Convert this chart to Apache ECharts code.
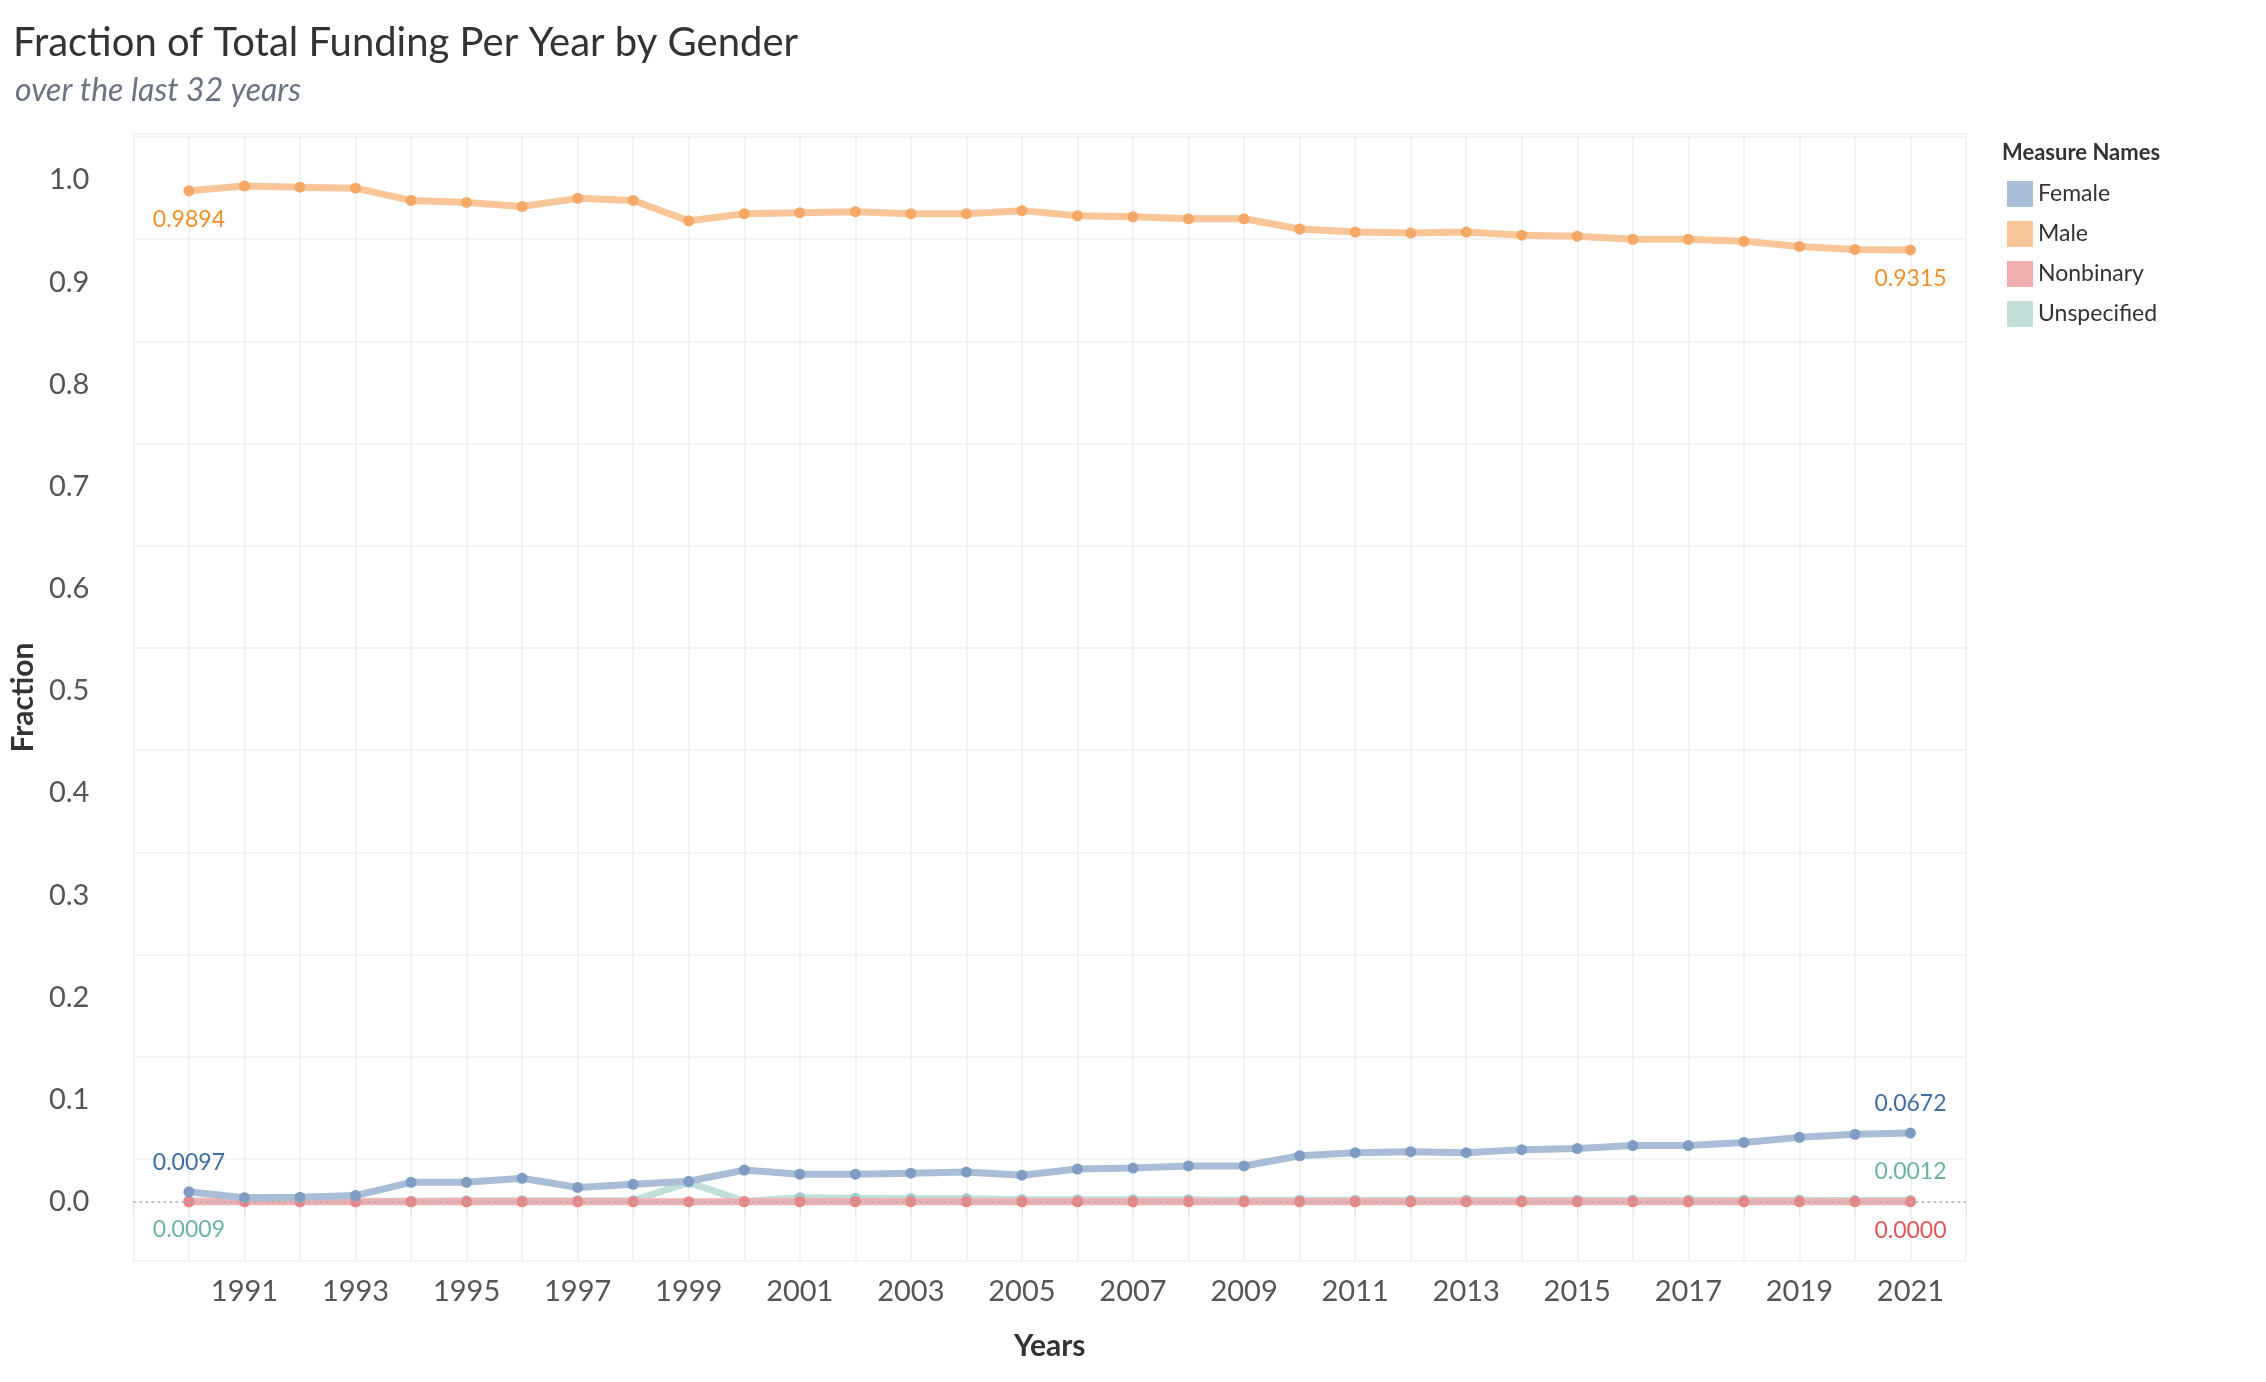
<!DOCTYPE html>
<html><head><meta charset="utf-8">
<script src="https://cdn.jsdelivr.net/npm/echarts@6/dist/echarts.min.js"></script>
<style>html,body{margin:0;padding:0;background:#fff}#c{width:2266px;height:1382px}</style>
</head><body><div id="c"></div>
<script>
const years = [1990,1991,1992,1993,1994,1995,1996,1997,1998,1999,2000,2001,2002,2003,2004,2005,2006,2007,2008,2009,2010,2011,2012,2013,2014,2015,2016,2017,2018,2019,2020,2021];
const female = [0.0097,0.004,0.0045,0.006,0.019,0.019,0.023,0.014,0.017,0.020,0.031,0.027,0.027,0.028,0.029,0.026,0.032,0.033,0.035,0.035,0.045,0.048,0.049,0.048,0.051,0.052,0.055,0.055,0.058,0.063,0.066,0.0672];
const male = [0.9894,0.994,0.993,0.992,0.980,0.978,0.974,0.982,0.980,0.960,0.967,0.968,0.969,0.967,0.967,0.970,0.965,0.964,0.962,0.962,0.952,0.949,0.948,0.949,0.946,0.945,0.942,0.942,0.940,0.935,0.932,0.9315];
const nonbinary = [0,0,0,0,0,0,0,0,0,0,0,0,0,0,0,0,0,0,0,0,0,0,0,0,0,0,0,0,0,0,0,0];
const unspecified = [0.0009,0.0005,0.0005,0.0005,0.0005,0.001,0.001,0.001,0.001,0.019,0.0005,0.004,0.0035,0.003,0.003,0.002,0.002,0.002,0.002,0.0015,0.0015,0.0015,0.0015,0.0015,0.0015,0.0015,0.0015,0.0015,0.0015,0.0015,0.0012,0.0012];

function build(vals, firstPos, lastPos, labelColor){
  return vals.map((v,i)=>{
    const d={value:[years[i],v]};
    let pos=null;
    if(i===0) pos=firstPos;
    if(i===vals.length-1) pos=lastPos;
    if(pos){
      d.label={show:true,position:pos,formatter:v.toFixed(4),color:labelColor,fontSize:23,fontFamily:'Lato',distance:12};
    }
    return d;
  });
}
function ser(name,vals,line,pt,leg,fp,lp,lc,z){
  return {name,type:'line',data:build(vals,fp,lp,lc),z,
    lineStyle:{color:line,width:7},itemStyle:{color:pt},
    symbol:'circle',symbolSize:11,label:{show:false},emphasis:{disabled:true}};
}
const chart=echarts.init(document.getElementById('c'));
const s=[
  ser('Female',female,'#a9bdd6','#7f9dc2','#a9bdd6','top','top','#3e6ea6',4),
  ser('Male',male,'#f9c699','#f5a865','#f9c699','bottom','bottom','#f28e2b',3),
  ser('Nonbinary',nonbinary,'#f1b0b0','#e88587','#f1b0b0',null,'bottom','#e15759',2),
  ser('Unspecified',unspecified,'#c2ded9','#a0cec7','#c2ded9','bottom','top','#6bb3a9',1)
];
s[0].markLine={silent:true,symbol:'none',label:{show:false},lineStyle:{color:'#b0b0b0',type:[3,3],width:1.5},data:[{yAxis:0}]};
chart.setOption({
  animation:false,
  title:[{text:'Fraction of Total Funding Per Year by Gender',left:8,top:18,textStyle:{fontFamily:'Lato',fontWeight:'normal',fontSize:40,color:'#333'}},
         {text:'over the last 32 years',left:10,top:70,textStyle:{fontFamily:'Lato',fontStyle:'italic',fontWeight:'normal',fontSize:32,color:'#6b7280'}}],
  legend:{orient:'vertical',left:2002,top:176,itemWidth:26,itemHeight:26,itemGap:14,icon:'rect',
    data:[{name:'Female',itemStyle:{color:'#a9bdd6'}},{name:'Male',itemStyle:{color:'#f9c699'}},{name:'Nonbinary',itemStyle:{color:'#f1b0b0'}},{name:'Unspecified',itemStyle:{color:'#c2ded9'}}],
    textStyle:{fontFamily:'Lato',fontSize:23,color:'#333'}},
  graphic:[{type:'text',left:2002,top:142,style:{text:'Measure Names',font:'bold 22px Lato',fill:'#333'}}],
  grid:{left:132,right:300,top:134,bottom:121},
  xAxis:{type:'value',min:1989,max:2022,interval:1,name:'Years',nameLocation:'middle',nameGap:70,
    nameTextStyle:{fontFamily:'Lato',fontSize:30,fontWeight:'bold',color:'#333'},
    axisLine:{show:false},axisTick:{show:true,length:12,lineStyle:{color:'#e5e5e5'}},
    splitLine:{show:true,lineStyle:{color:'#efefef',width:1.5}},
    axisLabel:{fontFamily:'Lato',fontSize:29,color:'#555',margin:16,
      formatter:v=>(v%2===1&&v>=1991&&v<=2021)?String(v):''}},
  yAxis:{type:'value',min:-0.058,max:1.045,name:'Fraction',nameLocation:'middle',nameGap:90,
    nameTextStyle:{fontFamily:'Lato',fontSize:30,fontWeight:'bold',color:'#333'},
    axisLine:{show:false},axisTick:{show:false},
    splitLine:{show:true,lineStyle:{color:'#efefef',width:1.5}},
    axisLabel:{fontFamily:'Lato',fontSize:29,color:'#555',margin:44,
      customValues:[0,0.1,0.2,0.3,0.4,0.5,0.6,0.7,0.8,0.9,1.0],formatter:v=>v.toFixed(1)},
    interval:0.1},
  series:s
});
</script></body></html>
